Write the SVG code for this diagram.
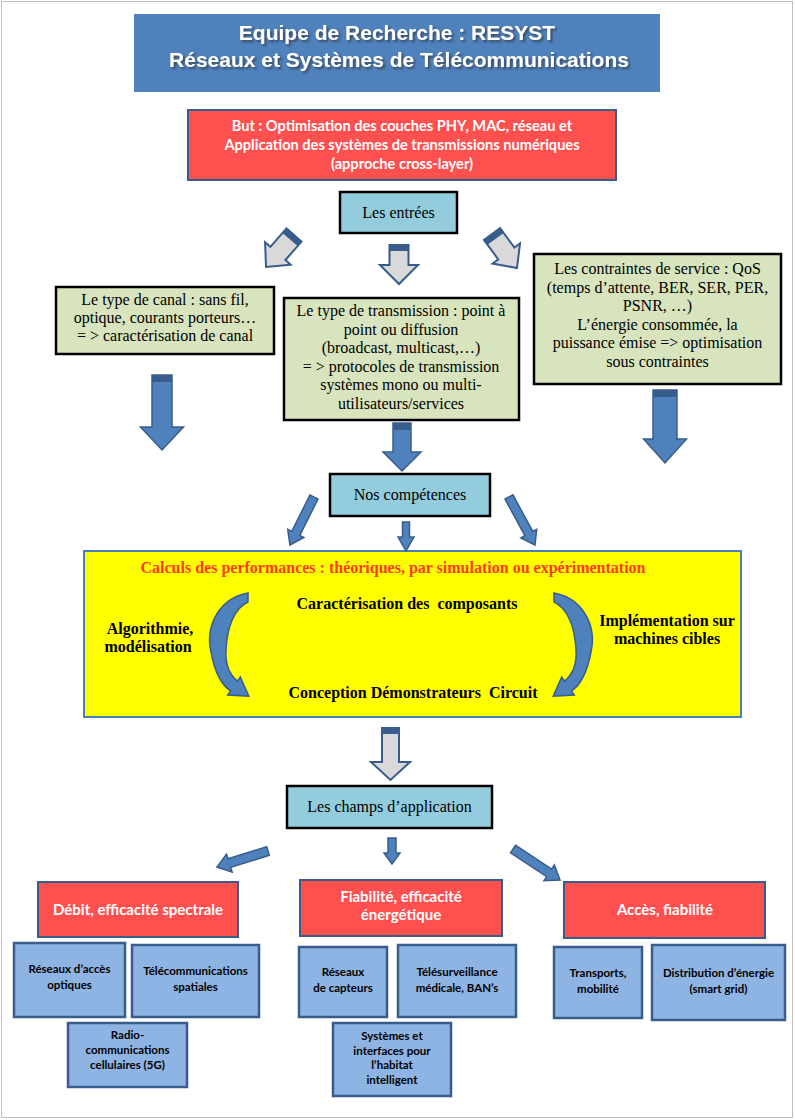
<svg xmlns="http://www.w3.org/2000/svg" width="795" height="1120" viewBox="0 0 795 1120">
<defs>
<style>
.serif{font-family:"Liberation Serif","Times New Roman",serif;font-size:16px;fill:#000;text-anchor:middle}
.sb{font-family:"Liberation Serif","Times New Roman",serif;font-size:16px;font-weight:bold;fill:#000;text-anchor:middle}
.cal{font-family:Lato,"Open Sans",sans-serif;font-weight:bold;text-anchor:middle}
.w{fill:#fff}
.k{fill:#000}
.green{fill:#D7E4BD;stroke:#000;stroke-width:2.5}
.cyan{fill:#93CDDD;stroke:#000;stroke-width:2.5}
.red{fill:#FF5050;stroke:#385D8A;stroke-width:2}
.lb{fill:#8EB4E3;stroke:#385D8A;stroke-width:2.5}
.ga{fill:#D9D9D9;stroke:#385D8A;stroke-width:2;stroke-linejoin:miter}
.ba{fill:#4F81BD;stroke:#385D8A;stroke-width:1.5}
.band{fill:#385D8A}
</style>
<filter id="sh" x="-5%" y="-20%" width="110%" height="150%">
<feGaussianBlur in="SourceAlpha" stdDeviation="0.8"/>
<feOffset dx="1.5" dy="1.5" result="b"/>
<feFlood flood-color="#333" flood-opacity="0.7"/>
<feComposite in2="b" operator="in"/>
<feMerge><feMergeNode/><feMergeNode in="SourceGraphic"/></feMerge>
</filter>
</defs>
<rect x="1.5" y="1.5" width="791" height="1116" fill="#fff" stroke="#BFBFBF" stroke-width="1"/>

<g id="title">
<rect x="134" y="14" width="526" height="78" fill="#4F81BD"/>
<g filter="url(#sh)" font-family="'Liberation Sans',Arial,sans-serif" font-weight="bold" font-size="21" fill="#fff" text-anchor="middle">
<text x="397" y="40">Equipe de Recherche : RESYST</text>
<text x="399" y="67">Réseaux et Systèmes de Télécommunications</text>
</g>
</g>

<g id="but">
<rect class="red" x="188" y="110" width="428" height="70"/>
<text class="cal w" font-size="14.6" x="402" y="131">But : Optimisation des couches PHY, MAC, réseau et</text>
<text class="cal w" font-size="14.6" x="402" y="150">Application des systèmes de transmissions numériques</text>
<text class="cal w" font-size="14.6" x="402" y="169">(approche cross-layer)</text>
</g>

<g id="entrees">
<rect class="cyan" x="340" y="192" width="117" height="41"/>
<text class="serif" x="398.5" y="218">Les entrées</text>
</g>

<g id="canal">
<rect class="green" x="56" y="287" width="218" height="67"/>
<text class="serif" x="165" y="305">Le type de canal : sans fil,</text>
<text class="serif" x="165" y="323">optique, courants porteurs…</text>
<text class="serif" x="165" y="341">= &gt; caractérisation de canal</text>
</g>

<g id="transmission">
<rect class="green" x="284" y="298" width="235" height="122"/>
<text class="serif" x="401" y="316">Le type de transmission : point à</text>
<text class="serif" x="401" y="334.5">point ou diffusion</text>
<text class="serif" x="401" y="353">(broadcast, multicast,…)</text>
<text class="serif" x="401" y="371.5">= &gt; protocoles de transmission</text>
<text class="serif" x="401" y="390">systèmes mono ou multi-</text>
<text class="serif" x="401" y="408.5">utilisateurs/services</text>
</g>

<g id="contraintes">
<rect class="green" x="534" y="254" width="247" height="130"/>
<text class="serif" x="657.5" y="274">Les contraintes de service : QoS</text>
<text class="serif" x="657.5" y="292.5">(temps d’attente, BER, SER, PER,</text>
<text class="serif" x="657.5" y="311">PSNR, …)</text>
<text class="serif" x="657.5" y="329.5">L’énergie consommée, la</text>
<text class="serif" x="657.5" y="348">puissance émise =&gt; optimisation</text>
<text class="serif" x="657.5" y="366.5">sous contraintes</text>
</g>

<g id="competences">
<rect class="cyan" x="330" y="474" width="160" height="42"/>
<text class="serif" x="410" y="500">Nos compétences</text>
</g>

<g id="performances">
<rect x="84" y="551" width="657" height="166" fill="#FFFF00" stroke="#4A7EBB" stroke-width="2"/>
<text class="sb" x="393" y="573" style="fill:#FF3B1F">Calculs des performances : théoriques, par simulation ou expérimentation</text>
<text class="sb" x="407" y="609">Caractérisation des&#160; composants</text>
<text class="sb" x="413" y="698">Conception Démonstrateurs&#160; Circuit</text>
<text class="sb" x="150" y="634">Algorithmie,</text>
<text class="sb" x="148" y="652">modélisation</text>
<text class="sb" x="667" y="626">Implémentation sur</text>
<text class="sb" x="667" y="644">machines cibles</text>
<path class="ba" d="M248,593 C220,598 205,625 211,652 C214,668 220,684 230.6,690.9 L227.7,695 L248.8,696.3 L240.3,677 L237.4,681.1 C230,675 225,665 226,650 C227,628 234,608 248,602 Z"/>
<path class="ba" transform="translate(802,0) scale(-1,1)" d="M248,593 C220,598 205,625 211,652 C214,668 220,684 230.6,690.9 L227.7,695 L248.8,696.3 L240.3,677 L237.4,681.1 C230,675 225,665 226,650 C227,628 234,608 248,602 Z"/>
</g>

<g id="champs">
<rect class="cyan" x="287" y="786" width="205" height="42"/>
<text class="serif" x="389.5" y="812">Les champs d’application</text>
</g>

<g id="debit">
<rect class="red" x="38" y="882" width="200" height="55"/>
<text class="cal w" font-size="15" x="138" y="915">Débit, efficacité spectrale</text>
</g>
<g id="fiabilite">
<rect class="red" x="300" y="880" width="202" height="56"/>
<text class="cal w" font-size="15" x="401" y="902">Fiabilité, efficacité</text>
<text class="cal w" font-size="15" x="401" y="920">énergétique</text>
</g>
<g id="acces">
<rect class="red" x="564" y="882" width="201" height="56"/>
<text class="cal w" font-size="15" x="665" y="915">Accès, fiabilité</text>
</g>

<g id="optiques">
<rect class="lb" x="14" y="943" width="111" height="74"/>
<text class="cal k" font-size="11.5" x="69.5" y="973">Réseaux d’accès</text>
<text class="cal k" font-size="11.5" x="69.5" y="989">optiques</text>
</g>
<g id="spatiales">
<rect class="lb" x="132" y="945" width="127" height="72"/>
<text class="cal k" font-size="11.5" x="195.5" y="975">Télécommunications</text>
<text class="cal k" font-size="11.5" x="195.5" y="991">spatiales</text>
</g>
<g id="cellulaires">
<rect class="lb" x="68" y="1023" width="119" height="64"/>
<text class="cal k" font-size="11.5" x="127.5" y="1039">Radio-</text>
<text class="cal k" font-size="11.5" x="127.5" y="1054">communications</text>
<text class="cal k" font-size="11.5" x="127.5" y="1069">cellulaires (5G)</text>
</g>
<g id="capteurs">
<rect class="lb" x="299" y="947" width="88" height="70"/>
<text class="cal k" font-size="11.5" x="343" y="976">Réseaux</text>
<text class="cal k" font-size="11.5" x="343" y="992">de capteurs</text>
</g>
<g id="telesurveillance">
<rect class="lb" x="398" y="945" width="118" height="72"/>
<text class="cal k" font-size="11.5" x="457" y="976">Télésurveillance</text>
<text class="cal k" font-size="11.5" x="457" y="992">médicale, BAN’s</text>
</g>
<g id="habitat">
<rect class="lb" x="333" y="1023" width="118" height="73"/>
<text class="cal k" font-size="11.5" x="392" y="1040">Systèmes et</text>
<text class="cal k" font-size="11.5" x="392" y="1055">interfaces pour</text>
<text class="cal k" font-size="11.5" x="392" y="1069">l’habitat</text>
<text class="cal k" font-size="11.5" x="392" y="1084">intelligent</text>
</g>
<g id="transports">
<rect class="lb" x="554" y="947" width="88" height="71"/>
<text class="cal k" font-size="11.5" x="598" y="977">Transports,</text>
<text class="cal k" font-size="11.5" x="598" y="993">mobilité</text>
</g>
<g id="energie">
<rect class="lb" x="652" y="945" width="133" height="75"/>
<text class="cal k" font-size="11.5" x="718.5" y="977">Distribution d’énergie</text>
<text class="cal k" font-size="11.5" x="718.5" y="993">(smart grid)</text>
</g>

<g id="connectors">
<g transform="translate(294,235) rotate(131.2)">
<path class="ga" d="M0,-10 L24.5,-10 L24.5,-17 L42.5,0 L24.5,17 L24.5,10 L0,10 Z"/>
<rect class="band" x="0" y="-10" width="6" height="20"/>
</g>
<g transform="translate(399,245) rotate(90)">
<path class="ga" d="M0,-9.5 L20,-9.5 L20,-19 L39,0 L20,19 L20,9.5 L0,9.5 Z"/>
<rect class="band" x="0" y="-9.5" width="6" height="19"/>
</g>
<g transform="translate(492,234) rotate(53.7)">
<path class="ga" d="M0,-10 L24.2,-10 L24.2,-17 L42.2,0 L24.2,17 L24.2,10 L0,10 Z"/>
<rect class="band" x="0" y="-10" width="6" height="20"/>
</g>
<g transform="translate(162,375) rotate(90)">
<path class="ba" d="M0,-10 L52,-10 L52,-21.5 L75,0 L52,21.5 L52,10 L0,10 Z"/>
<rect class="band" x="0" y="-10" width="7" height="20"/>
</g>
<g transform="translate(402,423) rotate(90)">
<path class="ba" d="M0,-9 L29,-9 L29,-19 L48,0 L29,19 L29,9 L0,9 Z"/>
<rect class="band" x="0" y="-9" width="7" height="18"/>
</g>
<g transform="translate(665,390) rotate(90)">
<path class="ba" d="M0,-12 L49,-12 L49,-21.5 L73,0 L49,21.5 L49,12 L0,12 Z"/>
<rect class="band" x="0" y="-12" width="7" height="24"/>
</g>
<g transform="translate(314,497) rotate(116.6)">
<path class="ba" d="M0,-4.5 L40.7,-4.5 L40.7,-9 L53.7,0 L40.7,9 L40.7,4.5 L0,4.5 Z"/>
</g>
<g transform="translate(406,522) rotate(90)">
<path class="ba" d="M0,-3.5 L15,-3.5 L15,-8 L29,0 L15,8 L15,3.5 L0,3.5 Z"/>
</g>
<g transform="translate(509,497) rotate(61.6)">
<path class="ba" d="M0,-4.5 L41.6,-4.5 L41.6,-9 L54.6,0 L41.6,9 L41.6,4.5 L0,4.5 Z"/>
</g>
<g transform="translate(390.5,728) rotate(90)">
<path class="ga" d="M0,-8.5 L34,-8.5 L34,-19.5 L52,0 L34,19.5 L34,8.5 L0,8.5 Z"/>
<rect class="band" x="0" y="-8.5" width="6" height="17"/>
</g>
<g transform="translate(268,851) rotate(162.6)">
<path class="ba" d="M0,-4.5 L40.5,-4.5 L40.5,-9.5 L53.5,0 L40.5,9.5 L40.5,4.5 L0,4.5 Z"/>
</g>
<g transform="translate(392,838) rotate(90)">
<path class="ba" d="M0,-4 L15,-4 L15,-8 L26,0 L15,8 L15,4 L0,4 Z"/>
</g>
<g transform="translate(513,849) rotate(33.4)">
<path class="ba" d="M0,-4.5 L43.3,-4.5 L43.3,-9.5 L56.3,0 L43.3,9.5 L43.3,4.5 L0,4.5 Z"/>
</g>
</g>
</svg>
